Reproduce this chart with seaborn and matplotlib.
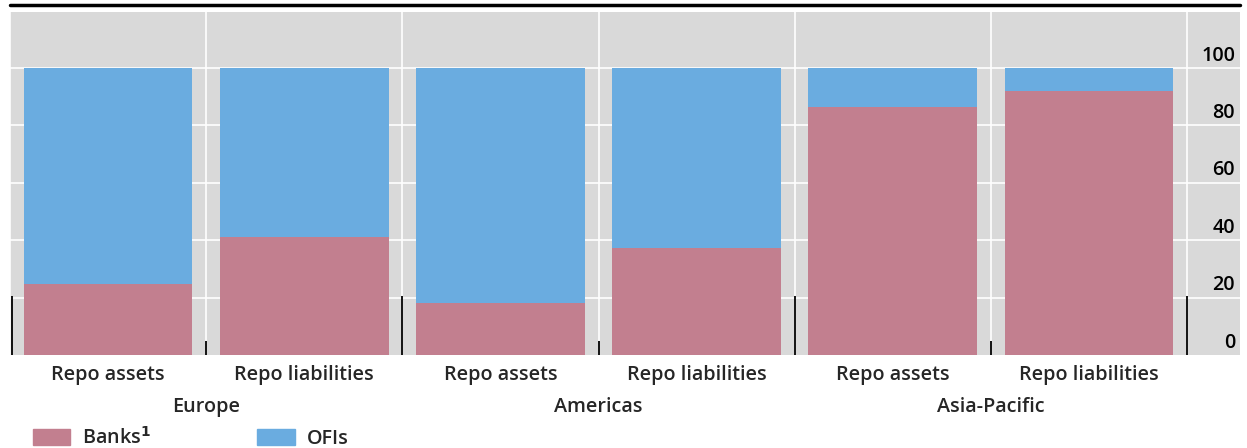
import numpy as np
import pandas as pd
import matplotlib.pyplot as plt
import seaborn as sns

regions = ['Europe', 'Americas', 'Asia-Pacific']
items = ['Repo assets', 'Repo liabilities']
banks = [24.7, 41.1, 18.1, 37.3, 86.4, 92.0]
ofis = [100 - b for b in banks]

cats = [f'{r} {i}' for r in regions for i in items]
df = pd.DataFrame({'cat': cats, 'banks': banks, 'total': np.add(banks, ofis)})

pink = '#C27F8F'
blue = '#6AACE0'

sns.set_style('white')
plt.rcParams['font.family'] = ['Open Sans', 'DejaVu Sans']
plt.rcParams['font.weight'] = 'semibold'
fs = 14.2

fig = plt.figure(figsize=(12.47, 4.48), dpi=100)
ax = fig.add_axes([10 / 1247, 1 - 355 / 448, 1230 / 1247, 343 / 448])
ax.set_facecolor('#D9D9D9')

sns.barplot(data=df, x='cat', y='total', color=blue, width=0.86, ax=ax,
            saturation=1, edgecolor='none')
sns.barplot(data=df, x='cat', y='banks', color=pink, width=0.86, ax=ax,
            saturation=1, edgecolor='none')

ax.set_xlim(-0.5, 5.77)
ax.set_ylim(0, 119.5)
ax.set_yticks([])
for v in range(20, 101, 20):
    ax.axhline(v, color='white', lw=1.2, zorder=0.5)
for x in np.arange(-0.5, 6, 1):
    ax.axvline(x, color='white', lw=1.2, zorder=0.5)
for v in range(0, 101, 20):
    ax.text(5.745, v + 0.8, str(v), ha='right', va='bottom',
            fontsize=fs, color='black')

# short separator marks at the base
ax.vlines([-0.49, 1.5, 3.5, 5.5], 0, 20.5, color='black', lw=1.3, zorder=3)
ax.vlines([0.5, 2.5, 4.5], 0, 5, color='black', lw=1.3, zorder=3)

ax.set_xticks(range(6))
ax.set_xticklabels(items * 3, fontsize=fs)
ax.tick_params(axis='x', length=0, pad=7)
ax.set_xlabel('')
ax.set_ylabel('')
for s in ax.spines.values():
    s.set_visible(False)

for k, r in enumerate(regions):
    ax.text(2 * k + 0.5, -0.152, r, transform=ax.get_xaxis_transform(),
            ha='center', va='center', fontsize=fs)

fig.add_artist(plt.Line2D([10 / 1247, 1240 / 1247], [1 - 5 / 448] * 2, color='black', lw=2.5))

handles = [plt.Rectangle((0, 0), 1, 1, color=pink), plt.Rectangle((0, 0), 1, 1, color=blue)]
fig.legend(handles, ['Banks$^{\\mathbf{1}}$', 'OFIs'], loc='lower left',
           bbox_to_anchor=(15 / 1247, -0.042), ncol=2, frameon=False, fontsize=fs,
           handlelength=1.9, handleheight=0.85, columnspacing=5.4, handletextpad=0.6)

fig.savefig('out.png', dpi=100)
